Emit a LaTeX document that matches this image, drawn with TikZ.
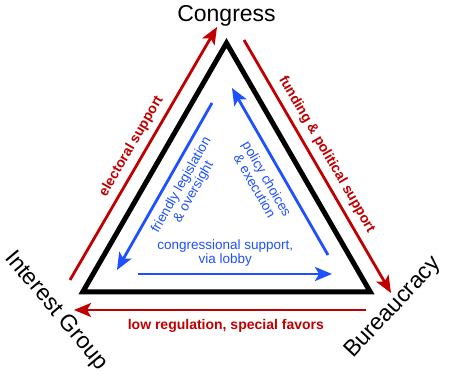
\documentclass[tikz,border=0pt]{standalone}
\usepackage{fontspec}
\setmainfont{Liberation Sans}
\usetikzlibrary{arrows.meta}
\definecolor{supportred}{RGB}{192,0,0}
\definecolor{favorblue}{RGB}{30,80,255}

\begin{document}
\begin{tikzpicture}[x=1pt, y=1pt, >={Stealth[length=17pt, width=14pt, inset=4pt]},
    redline/.style={->, draw=supportred, line width=2.8pt},
    blueline/.style={->, draw=favorblue, line width=2.8pt},
    redtext/.style={text=supportred, font=\fontsize{14}{16}\selectfont\bfseries, inner sep=2pt},
    bluetext/.style={text=favorblue, font=\fontsize{13.5}{14}\selectfont, align=center, inner sep=2pt},
    corner/.style={font=\fontsize{23}{27}\selectfont, inner sep=0pt}]
    \useasboundingbox (0,0) rectangle (450,380);
    % the triangle
    \coordinate (C) at (226.5,337);
    \coordinate (I) at (82.7,88);
    \coordinate (B) at (370.3,88);
    \draw[line width=5pt] (C) -- (I) -- (B) -- cycle;
    \node[corner, anchor=base] (congress) at (226.5,358) {Congress};
    \node[corner, rotate=-50] (group) at (56,69) {Interest Group};
    \node[corner, rotate=47] (bureau) at (393.5,72) {Bureaucracy};
    % outside: red
    \coordinate (ig1) at (70,100);
    \coordinate (c1) at (217,353);
    \draw[redline] (ig1) -- node[redtext, sloped, above=4pt] (electoral) {electoral support} (c1);
    \coordinate (c2) at (244,340);
    \coordinate (b2) at (391,87);
    \draw[redline] (c2) -- node[redtext, sloped, above=4pt, pos=0.48] (funding) {funding \& political support} (b2);
    \coordinate (b3) at (366,70);
    \coordinate (ig3) at (74,70);
    \draw[redline] (b3) -- node[redtext, below=6pt, pos=0.48] (favors) {low regulation, special favors} (ig3);
    % inside: blue
    \coordinate (c4) at (212,277);
    \coordinate (ig4) at (117,110);
    \draw[blueline] (c4) -- node[bluetext, sloped, below=4.5pt, pos=0.45] (friendly) {friendly legislation\\\& oversight} (ig4);
    \coordinate (b5) at (328,125);
    \coordinate (c5) at (232,292);
    \draw[blueline] (b5) -- node[bluetext, sloped, below=6.5pt] (policy) {policy choices\\\& execution} (c5);
    \coordinate (ig6) at (138,106);
    \coordinate (b6) at (332,106);
    \draw[blueline] (ig6) -- node[bluetext, above=4pt, pos=0.45] (lobby) {congressional support,\\via lobby} (b6);
\end{tikzpicture}
\end{document}
